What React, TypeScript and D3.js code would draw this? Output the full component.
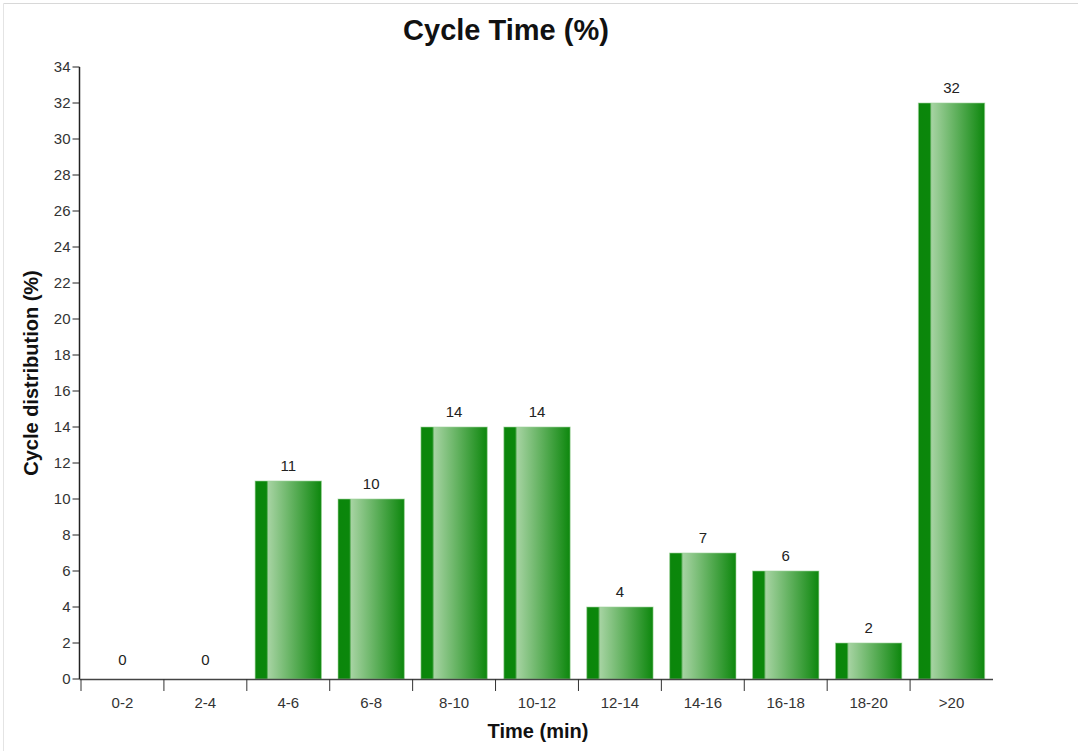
import React from "react";
import * as d3 from "d3";

const categories = ["0-2", "2-4", "4-6", "6-8", "8-10", "10-12", "12-14", "14-16", "16-18", "18-20", ">20"];
const values = [0, 0, 11, 10, 14, 14, 4, 7, 6, 2, 32];
const yTicks = d3.range(0, 35, 2);

const W = 1078;
const H = 751;
const margin = { left: 80, right: 85, top: 67, bottom: 72 };

export default function App() {
  const x = d3
    .scaleBand<string>()
    .domain(categories)
    .range([margin.left + 1, W - margin.right])
    .paddingInner(0.2)
    .paddingOuter(0.1);
  const y = d3.scaleLinear().domain([0, 34]).range([H - margin.bottom, margin.top]);
  const x0 = margin.left - 0.5;
  const yBase = y(0);
  const step = x.step();
  const bandStart = margin.left + 1;
  const font = "Arial, 'Liberation Sans', sans-serif";

  return (
    <svg
      width={W}
      height={H}
      style={{ position: "absolute", left: 0, top: 0, background: "#fff" }}
      fontFamily={font}
    >
      <defs>
        <linearGradient id="barGrad" x1="0" x2="1" y1="0" y2="0">
          <stop offset="0" stopColor="#0b860b" />
          <stop offset="0.17" stopColor="#0b870b" />
          <stop offset="0.2" stopColor="#a6d3a2" />
          <stop offset="0.55" stopColor="#63b260" />
          <stop offset="1" stopColor="#0d870d" />
        </linearGradient>
      </defs>
      <line x1={3.5} y1={3.5} x2={W} y2={3.5} stroke="#d8d8d8" />
      <line x1={3.5} y1={3.5} x2={3.5} y2={H} stroke="#e4e4e4" />

      <text x={506} y={40} textAnchor="middle" fontSize={29} fontWeight="bold" fill="#111">
        Cycle Time (%)
      </text>

      {categories.map((c, i) => {
        const v = values[i];
        const bx = x(c)!;
        const bw = x.bandwidth();
        const by = y(v);
        return (
          <g key={c}>
            {v > 0 && (
              <rect
                x={bx}
                y={by}
                width={bw}
                height={yBase - by}
                fill="url(#barGrad)"
                stroke="#9fd49a"
                strokeWidth={1}
                strokeOpacity={0.6}
              />
            )}
            <text
              x={bx + bw / 2}
              y={v > 0 ? by - 10 : by - 14}
              textAnchor="middle"
              fontSize={15}
              fill="#222"
            >
              {v}
            </text>
          </g>
        );
      })}

      {/* y axis */}
      <line x1={x0} y1={y(34)} x2={x0} y2={yBase} stroke="#222" strokeWidth={1.5} />
      {yTicks.map((t) => (
        <g key={t}>
          <line x1={x0 - 7} x2={x0} y1={y(t)} y2={y(t)} stroke="#222" strokeWidth={1} />
          <text x={x0 - 9} y={y(t)} dy="0.35em" textAnchor="end" fontSize={15} fill="#333">
            {t}
          </text>
        </g>
      ))}

      {/* x axis */}
      <line x1={x0} y1={yBase + 0.5} x2={bandStart + step * categories.length} y2={yBase + 0.5} stroke="#444" strokeWidth={1.5} />
      {categories.map((c, i) => (
        <g key={c}>
          <line
            x1={bandStart + step * i}
            x2={bandStart + step * i}
            y1={yBase}
            y2={yBase + 12}
            stroke="#333"
            strokeWidth={1}
          />
          <text x={x(c)! + x.bandwidth() / 2} y={708} textAnchor="middle" fontSize={15} fill="#333">
            {c}
          </text>
        </g>
      ))}

      <text x={538} y={738} textAnchor="middle" fontSize={20} fontWeight="bold" fill="#111">
        Time (min)
      </text>
      <text
        transform={`translate(38, 373) rotate(-90)`}
        textAnchor="middle"
        fontSize={20}
        fontWeight="bold"
        fill="#111"
      >
        Cycle distribution (%)
      </text>
    </svg>
  );
}
